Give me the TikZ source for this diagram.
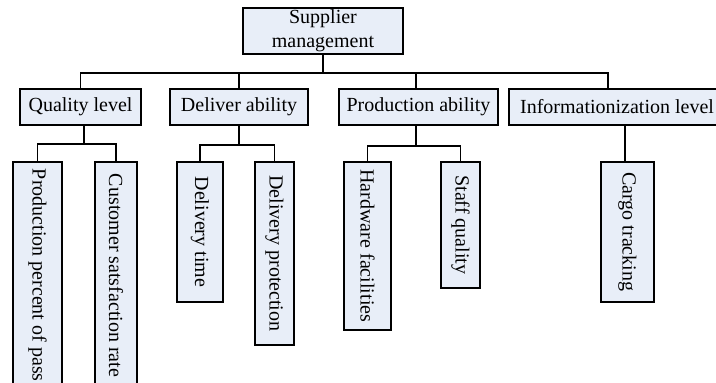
\documentclass[tikz,border=0pt]{standalone}
\usepackage{fontspec}
\setmainfont{Liberation Serif}
\usepackage{xcolor}
\usepackage{tikz}
\usetikzlibrary{positioning}
\definecolor{boxfill}{HTML}{E8EEF8}

\begin{document}
\begin{tikzpicture}[x=1pt,y=-1pt,
  font=\fontsize{20}{24}\selectfont,
  hbox/.style={draw=black,line width=1.8pt,fill=boxfill,inner sep=0pt,
               minimum height=36pt,align=center},
  vbox/.style={draw=black,line width=1.8pt,fill=boxfill,inner sep=0pt,
               rotate=-90,anchor=west},
  link/.style={draw=black,line width=1.8pt},
]
\useasboundingbox (0,0) rectangle (716,383);
\clip (0,0) rectangle (716,383);

% TOP: root
\node[hbox,minimum width=160pt,minimum height=46pt] (root) at (323,31) {Supplier\\management};
\coordinate (bus) at (323,73);

% SECOND LEVEL
\node[hbox,minimum width=121pt] (qual) at (80.5,107) {Quality level};
\node[hbox,minimum width=138pt] (deliv) at (239,107) {Deliver ability};
\node[hbox,minimum width=159pt] (prod) at (418.5,107) {Production ability};
\node[hbox,minimum width=216pt] (info) at (617,107) {Informationization level};

% THIRD LEVEL (vertical text)
\node[vbox,inner xsep=7pt,minimum height=49pt] (pass) at (37.5,161) {Production percent of pass};
\node[vbox,inner xsep=12pt,minimum height=42pt] (cust) at (116,161) {Customer satsfaction rate};
\node[vbox,minimum width=140pt,minimum height=46pt] (dtime) at (200,161) {Delivery time};
\node[vbox,minimum width=183pt,minimum height=39pt] (dprot) at (274.5,161) {Delivery protection};
\node[vbox,minimum width=168pt,minimum height=47pt] (hard) at (367.5,161) {Hardware facilities};
\node[vbox,minimum width=126pt,minimum height=39pt] (staff) at (460.5,161) {Staff quality};
\node[vbox,minimum width=140pt,minimum height=53pt] (cargo) at (627.5,161) {Cargo tracking};

% root -> second level
\draw[link] (root.south) -- (bus);
\draw[link] (bus) -| (qual.north);
\draw[link] (bus) -| (deliv.north);
\draw[link] (bus) -| ([xshift=-2.5pt]prod.north);
\draw[link] (bus) -| ([xshift=-9pt]info.north);

% second level -> third level
\draw[link] ([xshift=3.5pt]qual.south) -- ++(0,18) -| (pass.west);
\draw[link] ([xshift=3.5pt]qual.south) -- ++(0,18) -| (cust.west);
\draw[link] (deliv.south) -- ++(0,19) -| (dtime.west);
\draw[link] (deliv.south) -- ++(0,19) -| (dprot.west);
\draw[link] ([xshift=-2.5pt]prod.south) -- ++(0,20) -| (hard.west);
\draw[link] ([xshift=-2.5pt]prod.south) -- ++(0,20) -| (staff.west);
\draw[link] ([xshift=-2.5pt]cargo.west |- info.south) -- ([xshift=-2.5pt]cargo.west);
\end{tikzpicture}
\end{document}
